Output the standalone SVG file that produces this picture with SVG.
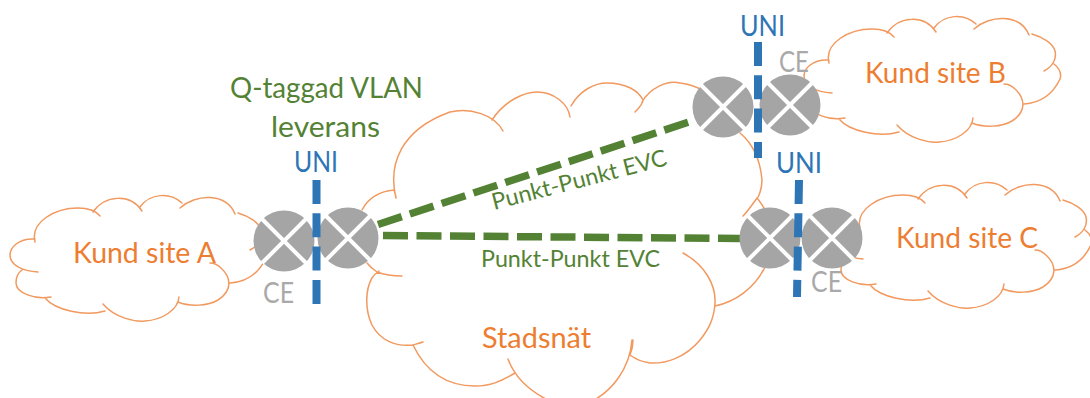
<svg xmlns="http://www.w3.org/2000/svg" xmlns:xlink="http://www.w3.org/1999/xlink" width="1090" height="398" viewBox="0 0 1090 398">
<style>
text{font-family:Lato,"Liberation Sans",sans-serif}
.cloud{fill:none;stroke:#f1995f;stroke-width:1.5;stroke-linecap:round}
.o{fill:#ed7d31;font-size:28px}
.g{fill:#548235}
.u{fill:#2e75b6;font-size:28px}
.c{fill:#a9a9a9;font-size:28px}
.uni{stroke:#2e75b6;stroke-width:8;stroke-dasharray:24 9.3;fill:none}
.evc{stroke:#548235;stroke-width:7.5;stroke-dasharray:25 8.5;fill:none}
.disc{fill:#a5a5a5}
.x{stroke:#fff;stroke-width:4;fill:none}
</style>
<defs>
<path id="site" class="cloud" d="M35,239C18,238 10,248 10,255C10,265 22,271 38,272M22,270C16,274 16,280 16,283C16,293 35,300 51,297M45,298C55,310 85,317 105,311M103,304C115,318 135,322 145,321C162,320 178,310 179,297M178,302C190,307 208,306 218,300C232,291 232,278 221,268C218,265 214,263 210,263M230,283C245,282 258,275 266,258C268,252 265,247 260,243M250,250C258,246 263,238 261,230C259,222 248,216 238,213M235,214C226,192 195,194 180,208M182,203C170,192 150,193 140,207M142,211C130,193 105,195 93,212M100,216C96,211 88,208 78,208C55,208 30,222 35,242"/>
<g id="rt"><circle class="disc" r="30.5"/><path class="x" d="M-22,-22L22,22M-22,22L22,-22"/></g>
</defs>
<g id="cloud-stadsnat"><path class="cloud" d="M396,198C388,165 400,130 450,112C470,107 495,115 503,131M492,120C505,100 525,92 537,92C553,92 568,103 570,117M571,106C580,90 595,83 607,83C625,83 638,90 643,100C643,104 638,109 635,112M642,102C650,88 667,80 680,83C688,84 695,86 702,90M740,133C752,143 760,157 762,180C762,190 758,198 757,198C752,205 748,211 743,216M757,198C760,201 762,205 764,208M765,267C755,288 735,302 715,306M683,253C705,265 716,285 715,303C714,320 708,330 700,340C685,358 665,364 650,363C642,362 634,358 630,355C632,350 633,345 633,340M632,340C630,368 612,392 590,402M552,402C530,392 515,378 508,359M515,373C500,382 490,386 475,386C445,386 425,370 413,345C416,344 420,343 423,342M413,345C395,347 380,340 372,325C365,310 365,290 372,278C374,275 376,273 379,271M367,263C371,268 374,270 377,272C385,275 393,276 402,276M362,210C368,198 380,191 394,190C395,193 396,196 396,198"/></g>
<g id="cloud-a"><use xlink:href="#site" href="#site"/><text class="o" x="73" y="263" textLength="143" lengthAdjust="spacingAndGlyphs">Kund site A</text></g>
<g id="cloud-b"><use xlink:href="#site" href="#site" transform="translate(794,-179)"/><text class="o" x="865" y="83" textLength="141" lengthAdjust="spacingAndGlyphs">Kund site B</text></g>
<g id="cloud-c"><use xlink:href="#site" href="#site" transform="translate(825,-13)"/><text class="o" x="896" y="248" textLength="142" lengthAdjust="spacingAndGlyphs">Kund site C</text></g>
<g id="connectors">
<path class="evc" d="M378,224.500L698,119"/>
<path class="evc" d="M383,235.500L740,238.500"/>
</g>
<g id="router-a1"><use xlink:href="#rt" href="#rt" x="284" y="241"/></g>
<g id="router-a2"><use xlink:href="#rt" href="#rt" x="348" y="238"/></g>
<g id="router-b1"><use xlink:href="#rt" href="#rt" x="723" y="107"/></g>
<g id="router-b2"><use xlink:href="#rt" href="#rt" x="790" y="105"/></g>
<g id="router-c1"><use xlink:href="#rt" href="#rt" x="770" y="238"/></g>
<g id="router-c2"><use xlink:href="#rt" href="#rt" x="832" y="238"/></g>
<g id="uni-lines">
<path class="uni" d="M316.500,180V304"/>
<path class="uni" d="M758,42V158"/>
<path class="uni" d="M799,180L797,297"/>
</g>
<g id="labels">
<text class="g" x="230" y="98" font-size="29" textLength="193" lengthAdjust="spacingAndGlyphs">Q-taggad VLAN</text>
<text class="g" x="271" y="137" font-size="29" textLength="109" lengthAdjust="spacingAndGlyphs">leverans</text>
<text class="u" x="294" y="172" textLength="44" lengthAdjust="spacingAndGlyphs">UNI</text>
<text class="u" x="740" y="36" textLength="45" lengthAdjust="spacingAndGlyphs">UNI</text>
<text class="u" x="776" y="173" textLength="46" lengthAdjust="spacingAndGlyphs">UNI</text>
<text class="c" x="263" y="303" textLength="31" lengthAdjust="spacingAndGlyphs">CE</text>
<text class="c" x="779" y="72" textLength="30" lengthAdjust="spacingAndGlyphs">CE</text>
<text class="c" x="811" y="292" textLength="31" lengthAdjust="spacingAndGlyphs">CE</text>
<text class="o" x="482" y="348" textLength="109" lengthAdjust="spacingAndGlyphs">Stadsnät</text>
<text class="g" font-size="23" x="481" y="267" textLength="179" lengthAdjust="spacingAndGlyphs">Punkt-Punkt EVC</text>
<text class="g" font-size="23" transform="translate(494,210) rotate(-14.500)" textLength="180" lengthAdjust="spacingAndGlyphs">Punkt-Punkt EVC</text>
</g>
</svg>
